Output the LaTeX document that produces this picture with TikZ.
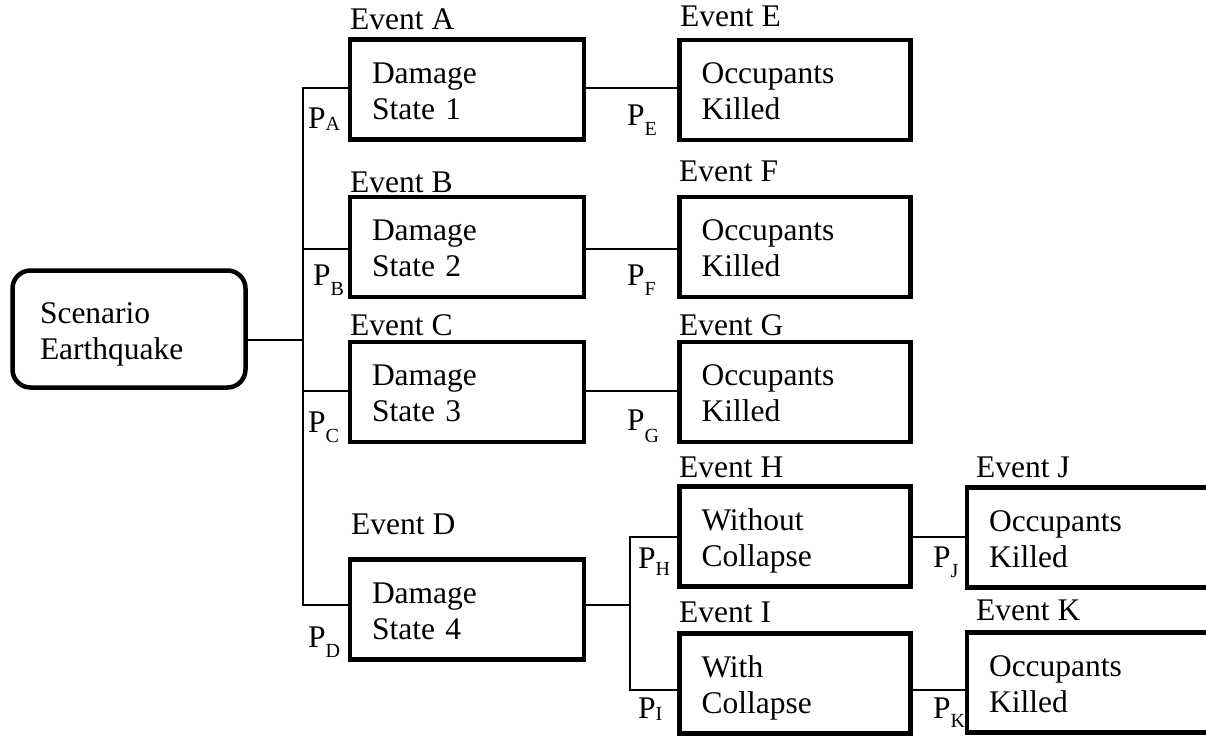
\documentclass[tikz,border=0pt]{standalone}
\usepackage{fontspec}
\setmainfont{Liberation Serif}
\newcommand{\psub}[2]{P\raisebox{-#1pt}{\fontsize{20}{20}\selectfont #2}}
\begin{document}
\begin{tikzpicture}[x=1pt,y=-1pt,
  txt/.style={font=\fontsize{31.5}{36}\selectfont},
  box/.style={txt, draw, line width=4.5pt, align=left, inner xsep=22pt, inner ysep=0pt,
              minimum height=100pt, text height=21pt, text depth=34pt},
  dbox/.style={box, text width=190pt},
  obox/.style={box, text width=187pt},
  wbox/.style={box, text width=210pt},
  conn/.style={line width=2pt},
  evt/.style={txt, anchor=base west, inner sep=0pt},
  prob/.style={txt, anchor=base west, inner sep=0pt}]
\useasboundingbox (0,0) rectangle (1206,736);
\clip (0,0) rectangle (1206,736);

% boxes
\node[box, rounded corners=18pt, text width=178pt, inner xsep=27.5pt, minimum height=117pt, text depth=33pt] (scen) at (129,329) {Scenario\\Earthquake};
\node[dbox] (A) at (467,89.5) {Damage\\State 1};
\node[dbox] (B) at (467,247) {Damage\\State 2};
\node[dbox] (C) at (467,392) {Damage\\State 3};
\node[dbox] (D) at (467,609.5) {Damage\\State 4};
\node[obox] (E) at (795,90) {Occupants\\Killed};
\node[obox] (F) at (795,247) {Occupants\\Killed};
\node[obox] (G) at (795,392) {Occupants\\Killed};
\node[obox] (H) at (795,536.5) {Without\\Collapse};
\node[obox] (I) at (795,683.5) {With\\Collapse};
\node[wbox] (J) at (1094,537.5) {Occupants\\Killed};
\node[wbox] (K) at (1094,682.5) {Occupants\\Killed};

% branch points
\coordinate (tS) at (303,340);
\coordinate (tA) at (303,88);
\coordinate (tB) at (303,249);
\coordinate (tC) at (303,391);
\coordinate (tD) at (303,605);
\coordinate (fD) at (630,605);
\coordinate (fH) at (630,537);
\coordinate (fI) at (630,690);

% connectors
\draw[conn] (tA -| A.west) -- (tA) -- (tD) -- (tD -| D.west);
\draw[conn] (scen.east |- tS) -- (tS);
\draw[conn] (tB) -- (tB -| B.west);
\draw[conn] (tC) -- (tC -| C.west);
\draw[conn] (A.east |- tA) -- (tA -| E.west);
\draw[conn] (B.east |- tB) -- (tB -| F.west);
\draw[conn] (C.east |- tC) -- (tC -| G.west);
\draw[conn] (D.east |- fD) -- (fD);
\draw[conn] (fH -| H.west) -- (fH) -- (fI) -- (fI -| I.west);
\draw[conn] (H.east |- fH) -- (fH -| J.west);
\draw[conn] (I.east |- fI) -- (fI -| K.west);

% event labels
\node[evt] (eA) at (350,29) {Event A};
\node[evt] (eB) at (350,192) {Event B};
\node[evt] (eC) at (350,335) {Event C};
\node[evt] (eD) at (351,534) {Event D};
\node[evt] (eE) at (680,26) {Event E};
\node[evt] (eF) at (679,181) {Event F};
\node[evt] (eG) at (679,335) {Event G};
\node[evt] (eH) at (679,477) {Event H};
\node[evt] (eI) at (679,622) {Event I};
\node[evt] (eJ) at (976,477) {Event J};
\node[evt] (eK) at (976,620) {Event K};

% probability labels
\node[prob] (pA) at (308,128) {\psub{2}{A}};
\node[prob] (pB) at (313,285) {\psub{10}{B}};
\node[prob] (pC) at (308,432) {\psub{10}{C}};
\node[prob] (pD) at (308,647) {\psub{10}{D}};
\node[prob] (pE) at (627,125) {\psub{10}{E}};
\node[prob] (pF) at (627,285) {\psub{10}{F}};
\node[prob] (pG) at (627,430) {\psub{12}{G}};
\node[prob] (pH) at (638,568) {\psub{7}{H}};
\node[prob] (pI) at (638,718) {\psub{2}{I}};
\node[prob] (pJ) at (933,567) {\psub{10}{J}};
\node[prob] (pK) at (933,718) {\psub{9}{K}};
\end{tikzpicture}
\end{document}
